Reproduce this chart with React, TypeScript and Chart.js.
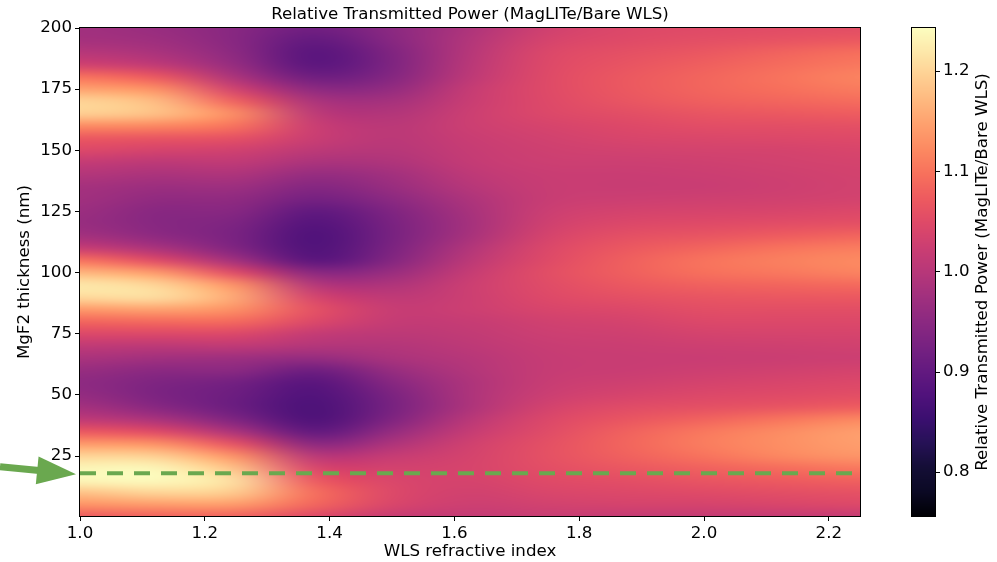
import React, { useEffect, useRef } from "react";
import { Chart, registerables } from "chart.js";

Chart.register(...registerables);

const FONT_FAMILY = "'DejaVu Sans', 'Liberation Sans', sans-serif";
const FONT_SIZE = 16.67;
const GREEN = "#6aa84f";

const TITLE = "Relative Transmitted Power (MagLITe/Bare WLS)";
const X_LABEL = "WLS refractive index";
const Y_LABEL = "MgF2 thickness (nm)";
const CB_LABEL = "Relative Transmitted Power (MagLITe/Bare WLS)";

// grid coordinates of the sampled map
const X_GRID = [1.0, 1.125, 1.25, 1.375, 1.5, 1.625, 1.75, 1.875, 2.0, 2.125, 2.25];
const Y_GRID = [200, 195, 190, 185, 180, 175, 170, 165, 160, 155, 150, 145, 140, 135, 130, 125, 120, 115, 110, 105, 100, 95, 90, 85, 80, 75, 70, 65, 60, 55, 50, 45, 40, 35, 30, 25, 20, 15, 10, 5, 0];

// relative transmitted power, one row per Y_GRID entry, one value per X_GRID entry
const Z_ROWS: number[][] = [
  [0.975, 0.965, 0.945, 0.915, 0.95, 0.99, 1.03, 1.045, 1.05, 1.053, 1.055],
  [0.98, 0.972, 0.945, 0.898, 0.945, 0.995, 1.038, 1.05, 1.057, 1.063, 1.07],
  [1.0, 0.985, 0.95, 0.885, 0.935, 1.0, 1.045, 1.058, 1.068, 1.082, 1.095],
  [1.03, 1.01, 0.96, 0.888, 0.933, 1.003, 1.048, 1.064, 1.078, 1.092, 1.105],
  [1.1, 1.07, 0.985, 0.912, 0.94, 1.008, 1.05, 1.07, 1.085, 1.1, 1.115],
  [1.15, 1.13, 1.03, 0.95, 0.958, 1.018, 1.05, 1.069, 1.085, 1.096, 1.108],
  [1.2, 1.175, 1.08, 0.985, 0.978, 1.022, 1.048, 1.065, 1.078, 1.085, 1.092],
  [1.195, 1.18, 1.125, 1.005, 0.993, 1.025, 1.045, 1.055, 1.065, 1.07, 1.075],
  [1.125, 1.12, 1.1, 1.022, 1.002, 1.025, 1.038, 1.047, 1.054, 1.055, 1.058],
  [1.07, 1.065, 1.06, 1.022, 1.003, 1.022, 1.032, 1.04, 1.043, 1.045, 1.048],
  [1.045, 1.035, 1.03, 1.005, 0.998, 1.018, 1.028, 1.032, 1.034, 1.036, 1.04],
  [1.015, 1.005, 1.01, 0.985, 0.99, 1.015, 1.025, 1.025, 1.028, 1.032, 1.036],
  [0.995, 0.985, 0.99, 0.96, 0.975, 1.008, 1.022, 1.022, 1.024, 1.028, 1.033],
  [0.98, 0.968, 0.97, 0.94, 0.965, 1.0, 1.02, 1.02, 1.022, 1.026, 1.032],
  [0.975, 0.955, 0.955, 0.92, 0.95, 0.99, 1.02, 1.025, 1.028, 1.03, 1.034],
  [0.968, 0.945, 0.945, 0.895, 0.935, 0.983, 1.025, 1.035, 1.038, 1.04, 1.045],
  [0.965, 0.943, 0.933, 0.88, 0.928, 0.98, 1.03, 1.045, 1.05, 1.054, 1.058],
  [0.978, 0.952, 0.928, 0.873, 0.925, 0.983, 1.038, 1.058, 1.065, 1.075, 1.085],
  [1.02, 0.985, 0.935, 0.874, 0.93, 0.995, 1.045, 1.07, 1.085, 1.1, 1.11],
  [1.1, 1.05, 0.975, 0.885, 0.94, 1.005, 1.05, 1.078, 1.1, 1.112, 1.122],
  [1.17, 1.14, 1.05, 0.945, 0.965, 1.018, 1.055, 1.078, 1.097, 1.105, 1.115],
  [1.22, 1.2, 1.13, 0.995, 0.99, 1.025, 1.052, 1.07, 1.08, 1.085, 1.09],
  [1.205, 1.21, 1.155, 1.035, 1.008, 1.025, 1.048, 1.058, 1.065, 1.068, 1.07],
  [1.14, 1.15, 1.13, 1.058, 1.018, 1.025, 1.04, 1.045, 1.055, 1.055, 1.055],
  [1.085, 1.09, 1.09, 1.045, 1.015, 1.018, 1.03, 1.035, 1.045, 1.045, 1.045],
  [1.045, 1.045, 1.045, 1.015, 1.005, 1.012, 1.025, 1.028, 1.035, 1.037, 1.038],
  [1.01, 1.005, 1.01, 0.995, 0.995, 1.007, 1.02, 1.023, 1.027, 1.028, 1.03],
  [0.985, 0.975, 0.97, 0.96, 0.985, 1.0, 1.018, 1.02, 1.022, 1.023, 1.025],
  [0.963, 0.948, 0.95, 0.912, 0.963, 0.995, 1.018, 1.022, 1.026, 1.03, 1.035],
  [0.953, 0.932, 0.92, 0.885, 0.945, 0.99, 1.02, 1.028, 1.035, 1.04, 1.045],
  [0.96, 0.93, 0.912, 0.875, 0.93, 0.99, 1.025, 1.038, 1.045, 1.05, 1.055],
  [0.98, 0.945, 0.91, 0.87, 0.925, 0.99, 1.035, 1.052, 1.058, 1.065, 1.075],
  [1.01, 0.985, 0.932, 0.872, 0.935, 1.003, 1.045, 1.066, 1.083, 1.102, 1.12],
  [1.07, 1.05, 0.985, 0.895, 0.96, 1.018, 1.052, 1.08, 1.105, 1.125, 1.145],
  [1.14, 1.13, 1.06, 0.945, 0.99, 1.03, 1.058, 1.085, 1.11, 1.128, 1.145],
  [1.2, 1.195, 1.13, 1.0, 1.018, 1.036, 1.06, 1.08, 1.1, 1.12, 1.135],
  [1.235, 1.235, 1.18, 1.04, 1.033, 1.038, 1.056, 1.068, 1.08, 1.093, 1.105],
  [1.235, 1.24, 1.21, 1.07, 1.042, 1.035, 1.05, 1.056, 1.065, 1.072, 1.08],
  [1.18, 1.2, 1.19, 1.095, 1.045, 1.03, 1.042, 1.045, 1.05, 1.055, 1.06],
  [1.13, 1.14, 1.14, 1.085, 1.04, 1.025, 1.032, 1.035, 1.035, 1.04, 1.045],
  [1.07, 1.08, 1.08, 1.045, 1.018, 1.015, 1.02, 1.015, 1.015, 1.015, 1.015],
];

const X_RANGE = [1.0, 2.25];
const Y_RANGE = [0.5, 200];
const X_TICKS = [1.0, 1.2, 1.4, 1.6, 1.8, 2.0, 2.2];
const Y_TICKS = [25, 50, 75, 100, 125, 150, 175, 200];
const CB_RANGE = [0.756, 1.243];
const CB_TICKS = [0.8, 0.9, 1.0, 1.1, 1.2];

// highlighted thickness (dashed line)
const MARK_Y = 18;
const MARK_X = [1.0, 2.25];

const MAGMA = [
  "#000004", "#0b0924", "#140e36", "#261156", "#3b0f70", "#51127c", "#641a80",
  "#782281", "#8c2981", "#a1307e", "#b73779", "#cb3e72", "#de4968", "#ed5a5f",
  "#f7705c", "#fc8961", "#fe9f6d", "#feb77e", "#fecf92", "#fde7a9", "#fcfdbf",
];
const MAGMA_RGB = MAGMA.map((h) => [
  parseInt(h.slice(1, 3), 16),
  parseInt(h.slice(3, 5), 16),
  parseInt(h.slice(5, 7), 16),
]);

function magma(v: number): number[] {
  let t = (v - CB_RANGE[0]) / (CB_RANGE[1] - CB_RANGE[0]);
  t = Math.max(0, Math.min(1, t));
  const f = t * (MAGMA_RGB.length - 1);
  const i = Math.min(MAGMA_RGB.length - 2, Math.floor(f));
  const u = f - i;
  const a = MAGMA_RGB[i];
  const b = MAGMA_RGB[i + 1];
  return [0, 1, 2].map((k) => Math.round(a[k] + (b[k] - a[k]) * u));
}

const CB_GAP = 52; // gap between plot and colorbar
const CB_WIDTH = 23;

const heatmapPlugin = {
  id: "heatmap",
  beforeDatasetsDraw(chart: any) {
    const { ctx, chartArea } = chart;
    const xs = chart.scales.x;
    const ys = chart.scales.y;
    const nx = X_GRID.length;
    const ny = Y_GRID.length;
    const off = document.createElement("canvas");
    off.width = nx;
    off.height = ny;
    const octx = off.getContext("2d")!;
    const img = octx.createImageData(nx, ny);
    for (let j = 0; j < ny; j++) {
      for (let i = 0; i < nx; i++) {
        const c = magma(Z_ROWS[j][i]);
        const p = (j * nx + i) * 4;
        img.data[p] = c[0];
        img.data[p + 1] = c[1];
        img.data[p + 2] = c[2];
        img.data[p + 3] = 255;
      }
    }
    octx.putImageData(img, 0, 0);
    const hx = (X_GRID[1] - X_GRID[0]) / 2;
    const hy = (Y_GRID[0] - Y_GRID[1]) / 2;
    const left = xs.getPixelForValue(X_GRID[0] - hx);
    const right = xs.getPixelForValue(X_GRID[nx - 1] + hx);
    const top = ys.getPixelForValue(Y_GRID[0] + hy);
    const bottom = ys.getPixelForValue(Y_GRID[ny - 1] - hy);
    ctx.save();
    ctx.beginPath();
    ctx.rect(chartArea.left, chartArea.top, chartArea.right - chartArea.left, chartArea.bottom - chartArea.top);
    ctx.clip();
    ctx.imageSmoothingEnabled = true;
    (ctx as any).imageSmoothingQuality = "high";
    ctx.drawImage(off, left, top, right - left, bottom - top);
    ctx.restore();
  },
};

const decorPlugin = {
  id: "decor",
  afterDraw(chart: any) {
    const { ctx, chartArea } = chart;
    const xs = chart.scales.x;
    const ys = chart.scales.y;
    const cb = chart.scales.cb;
    const font = `${FONT_SIZE}px ${FONT_FAMILY}`;

    ctx.save();
    // spines
    ctx.strokeStyle = "#000";
    ctx.lineWidth = 1;
    ctx.strokeRect(chartArea.left - 0.5, chartArea.top - 0.5, chartArea.right - chartArea.left + 1, chartArea.bottom - chartArea.top + 1);

    // title
    ctx.fillStyle = "#000";
    ctx.font = font;
    ctx.textAlign = "center";
    ctx.textBaseline = "middle";
    ctx.fillText(TITLE, (chartArea.left + chartArea.right) / 2, chartArea.top - 13);

    // colorbar
    const cbLeft = chartArea.right + CB_GAP;
    const cbTop = cb.top;
    const cbBottom = cb.bottom;
    for (let py = Math.floor(cbTop); py < cbBottom; py++) {
      const v = cb.getValueForPixel(py + 0.5);
      const c = magma(v);
      ctx.fillStyle = `rgb(${c[0]},${c[1]},${c[2]})`;
      ctx.fillRect(cbLeft, py, CB_WIDTH, 1);
    }
    ctx.strokeStyle = "#000";
    ctx.lineWidth = 1;
    ctx.strokeRect(cbLeft - 0.5, cbTop - 0.5, CB_WIDTH + 1, cbBottom - cbTop + 1);
    for (const t of CB_TICKS) {
      const py = Math.round(cb.getPixelForValue(t)) + 0.5;
      ctx.beginPath();
      ctx.moveTo(cbLeft + CB_WIDTH, py);
      ctx.lineTo(cbLeft + CB_WIDTH + 5, py);
      ctx.stroke();
    }
    // colorbar label
    ctx.save();
    ctx.translate(chartArea.right + 123, (cbTop + cbBottom) / 2);
    ctx.rotate(-Math.PI / 2);
    ctx.fillStyle = "#000";
    ctx.font = font;
    ctx.textAlign = "center";
    ctx.textBaseline = "middle";
    ctx.fillText(CB_LABEL, 0, 0);
    ctx.restore();

    // arrow pointing at the dashed line
    const tipX = xs.getPixelForValue(MARK_X[0]) - 4;
    const tipY = ys.getPixelForValue(MARK_Y) + 1;
    const tailX = 0;
    const tailY = tipY - 7.5;
    const dx = tipX - tailX;
    const dy = tipY - tailY;
    const len = Math.hypot(dx, dy);
    const ux = dx / len;
    const uy = dy / len;
    const headLen = 39;
    const headHalf = 14;
    const bx = tipX - ux * headLen;
    const by = tipY - uy * headLen;
    ctx.fillStyle = GREEN;
    ctx.strokeStyle = GREEN;
    ctx.lineWidth = 7;
    ctx.lineCap = "butt";
    ctx.beginPath();
    ctx.moveTo(tailX, tailY);
    ctx.lineTo(bx + ux * 2, by + uy * 2);
    ctx.stroke();
    ctx.beginPath();
    ctx.moveTo(tipX, tipY);
    ctx.lineTo(bx - uy * headHalf, by + ux * headHalf);
    ctx.lineTo(bx + uy * headHalf, by - ux * headHalf);
    ctx.closePath();
    ctx.fill();
    ctx.restore();
  },
};

const tickFont = { family: FONT_FAMILY, size: FONT_SIZE };

export default function App() {
  const ref = useRef<HTMLCanvasElement>(null);
  useEffect(() => {
    const canvas = ref.current!;
    const chart = new Chart(canvas, {
      type: "line",
      data: {
        datasets: [
          {
            data: MARK_X.map((x) => ({ x, y: MARK_Y })),
            borderColor: GREEN,
            borderWidth: 4,
            borderDash: [16, 11],
            borderCapStyle: "butt",
            pointRadius: 0,
            fill: false,
            xAxisID: "x",
            yAxisID: "y",
          } as any,
        ],
      },
      options: {
        responsive: false,
        animation: false,
        devicePixelRatio: 1,
        layout: { padding: { top: 28, left: 0, right: 0, bottom: 0 } },
        plugins: {
          legend: { display: false },
          tooltip: { enabled: false },
          title: { display: false },
        },
        scales: {
          x: {
            type: "linear",
            min: X_RANGE[0],
            max: X_RANGE[1],
            afterBuildTicks: (s: any) => {
              s.ticks = X_TICKS.map((value) => ({ value }));
            },
            afterFit: (s: any) => {
              s.height = 46;
            },
            ticks: {
              autoSkip: false,
              maxRotation: 0,
              padding: 3,
              color: "#000",
              font: tickFont,
              callback: (v: any) => Number(v).toFixed(1),
            },
            grid: { drawOnChartArea: false, drawTicks: true, tickLength: 5, color: "#000" },
            border: { display: false },
            title: { display: true, text: X_LABEL, color: "#000", font: tickFont, padding: { top: 0, bottom: 0 } },
          },
          y: {
            type: "linear",
            min: Y_RANGE[0],
            max: Y_RANGE[1],
            afterBuildTicks: (s: any) => {
              s.ticks = Y_TICKS.map((value) => ({ value }));
            },
            afterFit: (s: any) => {
              s.width = 80;
            },
            ticks: {
              autoSkip: false,
              padding: 3,
              color: "#000",
              font: tickFont,
              callback: (v: any) => String(v),
            },
            grid: { drawOnChartArea: false, drawTicks: true, tickLength: 5, color: "#000" },
            border: { display: false },
            title: { display: true, text: Y_LABEL, color: "#000", font: tickFont, padding: { top: 15, bottom: 0 } },
          },
          cb: {
            type: "linear",
            position: "right",
            min: CB_RANGE[0],
            max: CB_RANGE[1],
            afterBuildTicks: (s: any) => {
              s.ticks = CB_TICKS.map((value) => ({ value }));
            },
            afterFit: (s: any) => {
              s.width = 137;
            },
            ticks: {
              autoSkip: false,
              padding: 3,
              color: "#000",
              font: tickFont,
              callback: (v: any) => Number(v).toFixed(1),
            },
            grid: {
              display: true,
              drawOnChartArea: false,
              drawTicks: true,
              tickLength: CB_GAP + CB_WIDTH + 5,
              color: "rgba(0,0,0,0)",
            },
            border: { display: false },
          },
        },
      } as any,
      plugins: [heatmapPlugin, decorPlugin],
    });
    return () => chart.destroy();
  }, []);

  return (
    <div style={{ position: "absolute", left: 0, top: 0, width: 997, height: 562, background: "#fff" }}>
      <canvas ref={ref} width={997} height={562} style={{ display: "block", width: 997, height: 562 }} />
    </div>
  );
}
